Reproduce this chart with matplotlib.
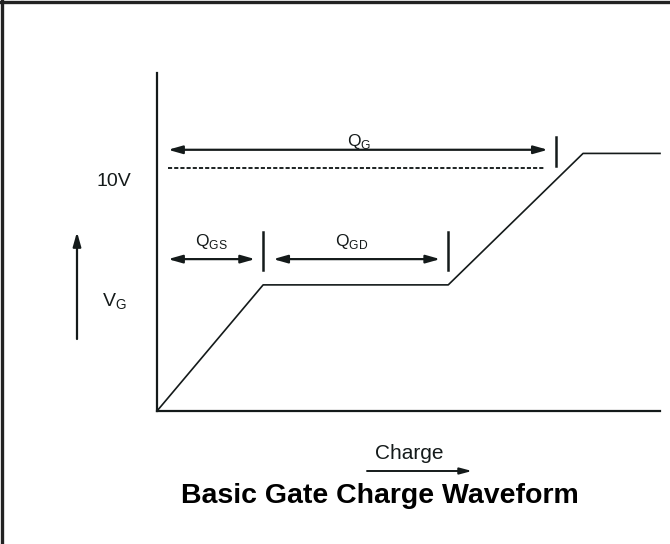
import matplotlib
matplotlib.use("Agg")
import matplotlib.pyplot as plt
from matplotlib.lines import Line2D
from matplotlib.patches import FancyArrowPatch

plt.rcParams['font.family'] = ['Liberation Sans', 'DejaVu Sans']
plt.rcParams['mathtext.fontset'] = 'custom'
plt.rcParams['mathtext.rm'] = 'Liberation Sans'

# Waveform data (charge in arbitrary units, gate voltage in V)
charge = [0, 21.1, 57.9, 84.7, 100]
vgate = [0, 5.19, 5.19, 10.6, 10.6]

# Annotation levels
qg_span = [2.2, 77.7]
qg_level = 10.75
qg_tick = 79.3
dash_span = [2.2, 77.1]
dash_level = 10.0
qgs_span = [2.2, 19.5]
qgd_span = [23.1, 56.3]
seg_level = 6.25
seg_ticks = [21.1, 57.9]

W, H = 670, 544
fig = plt.figure(figsize=(W / 100, H / 100), dpi=100)
ax = fig.add_axes([157 / W, (H - 411) / H, 503 / W, 338 / H])
ax.set_xlim(0, 100)
ax.set_ylim(0, 338 / 24.3)
for s in ['top', 'right']:
    ax.spines[s].set_visible(False)
for s in ['left', 'bottom']:
    ax.spines[s].set_linewidth(1.6)
    ax.spines[s].set_color('#141a1a')
ax.set_xticks([])
ax.set_yticks([])

col = '#141a1a'
ax.plot(charge, vgate, color=col, lw=1.2, clip_on=False)

# dashed 10 V line
ax.plot(dash_span, [dash_level, dash_level], color=col, lw=1.35, ls=(0, (2.2, 1.1)))

astyle = '<|-|>,head_length=0.6,head_width=0.17'
arrow_kw = dict(arrowstyle=astyle, color=col, lw=1.6, mutation_scale=14,
                shrinkA=0, shrinkB=0)
ax.annotate('', xy=(qg_span[1], qg_level), xytext=(qg_span[0], qg_level), arrowprops=arrow_kw)
ax.annotate('', xy=(qgs_span[1], seg_level), xytext=(qgs_span[0], seg_level), arrowprops=arrow_kw)
ax.annotate('', xy=(qgd_span[1], seg_level), xytext=(qgd_span[0], seg_level), arrowprops=arrow_kw)

# ticks
ax.plot([qg_tick, qg_tick], [10.08, 11.28], color=col, lw=1.8)
for t in seg_ticks:
    ax.plot([t, t], [5.8, 7.37], color=col, lw=1.8)

fs = 12.5
# text positions in pixel coords converted to data
def dx(x):
    return (x - 157) / 503 * 100

def dy(y):
    return (411 - y) / 24.3

ax.text(dx(359), dy(146), r'Q$_\mathregular{G}$', ha='center', va='baseline', fontsize=fs, color=col)
ax.text(dx(211), dy(246), r'Q$_\mathregular{GS}$', ha='center', va='baseline', fontsize=fs, color=col)
ax.text(dx(352), dy(246), r'Q$_\mathregular{GD}$', ha='center', va='baseline', fontsize=fs, color=col)

# outside texts (figure pixel coords)
def fx(x):
    return x / W

def fy(y):
    return 1 - y / H

fig.text(fx(114), fy(186), '10V', ha='center', va='baseline', fontsize=14, color=col)
fig.text(fx(114), fy(307), r'V$_\mathregular{G}$', ha='center', va='baseline', fontsize=14, color=col)
fig.patches.append(FancyArrowPatch(
    (fx(77), fy(339)), (fx(77), fy(232)), transform=fig.transFigure,
    arrowstyle='-|>,head_length=0.6,head_width=0.17', color=col, lw=1.6,
    mutation_scale=14, shrinkA=0, shrinkB=0))

fig.text(fx(409), fy(459), 'Charge', ha='center', va='baseline', fontsize=15, color=col)
fig.patches.append(FancyArrowPatch(
    (fx(367), fy(471)), (fx(472), fy(471)), transform=fig.transFigure,
    arrowstyle='-|>,head_length=0.6,head_width=0.16', color=col, lw=1.4,
    mutation_scale=12, shrinkA=0, shrinkB=0))

fig.text(fx(380), fy(503), 'Basic Gate Charge Waveform', ha='center', va='baseline',
         fontsize=20.5, fontweight='bold', color='black')

# frame (top and left)
fig.add_artist(Line2D([0, 1], [fy(1.5), fy(1.5)], transform=fig.transFigure, color='#222222', lw=2.4))
fig.add_artist(Line2D([fx(1.5), fx(1.5)], [0, 1], transform=fig.transFigure, color='#222222', lw=2.4))

fig.savefig('out.png', dpi=100)
